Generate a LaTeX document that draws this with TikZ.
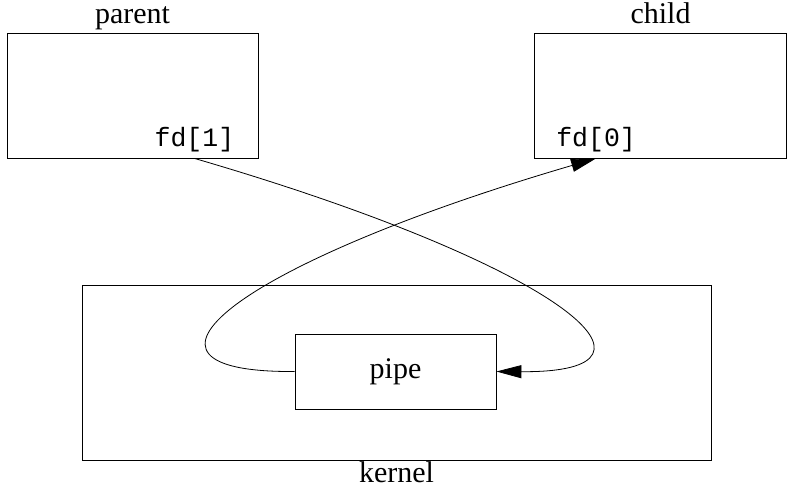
\documentclass[tikz,border=0pt]{standalone}
\usepackage{fontspec}
\setmainfont{Liberation Serif}
\setmonofont{Liberation Mono}
\usetikzlibrary{arrows.meta, positioning}
\tikzstyle{pBox} = [rectangle, draw=black, line width=0.8pt, inner sep=0pt]
\tikzstyle{pLabel} = [font=\fontsize{30}{34}\selectfont, inner sep=0pt]
\tikzstyle{pFd} = [font=\fontsize{26.5}{28}\selectfont\ttfamily, inner sep=0pt]
\tikzstyle{pArrow} = [line width=0.8pt, -{Triangle[length=25pt, width=13pt]}]

\begin{document}
\begin{tikzpicture}[x=1pt, y=-1pt]
    \useasboundingbox (0,0) rectangle (794,489);
    \node (parent) [pBox, minimum width=251pt, minimum height=125pt] at (132.5,95.5) {};
    \node (child) [pBox, minimum width=252pt, minimum height=125pt] at (660.5,95.5) {};
    \node (kernel) [pBox, minimum width=629pt, minimum height=175pt] at (396.5,372.5) {};
    \node (pipe) [pBox, minimum width=201pt, minimum height=75pt, pLabel] at (395.5,371.5) {pipe};
    \node (parentlbl) [pLabel, anchor=base] at ([yshift=9pt]parent.north) {parent};
    \node (childlbl) [pLabel, anchor=base] at ([yshift=9pt]child.north) {child};
    \node (kernellbl) [pLabel, anchor=base] at ([yshift=-22pt]kernel.south) {kernel};
    \node (fdone) [pFd, anchor=south east] at ([xshift=-24pt, yshift=6pt]parent.south east) {fd[1]};
    \node (fdzero) [pFd, anchor=south west] at ([xshift=22pt, yshift=6pt]child.south west) {fd[0]};

    \draw [pArrow] (fdone.south |- parent.south) .. controls (560,265) and (690,373) .. (pipe.east);
    \draw [pArrow] (pipe.west) .. controls (102,373) and (232,265) .. (fdzero.south |- child.south);
\end{tikzpicture}
\end{document}
